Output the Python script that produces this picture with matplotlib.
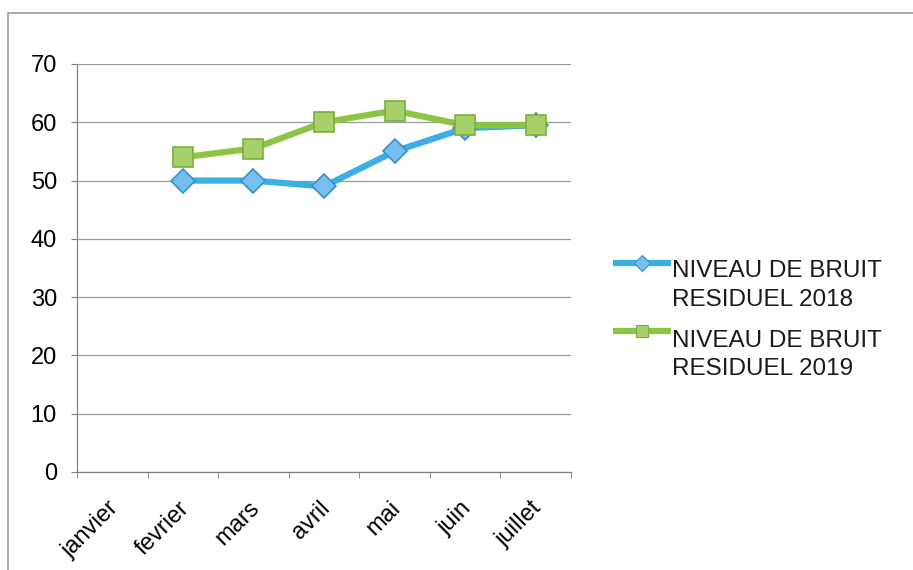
import matplotlib
matplotlib.use("Agg")
import matplotlib.pyplot as plt
import matplotlib.transforms as mtransforms
from matplotlib.patches import Rectangle
from matplotlib.lines import Line2D
import numpy as np

plt.rcParams['font.family'] = ['Liberation Sans', 'DejaVu Sans']

months = ["janvier", "fevrier", "mars", "avril", "mai", "juin", "juillet"]
bruit_2018 = [np.nan, 50, 50, 49, 55, 59, 59.5]
bruit_2019 = [np.nan, 54, 55.5, 60, 62, 59.5, 59.5]
label_2018 = ["NIVEAU DE BRUIT", "RESIDUEL 2018"]
label_2019 = ["NIVEAU DE BRUIT", "RESIDUEL 2019"]
yticks = [0, 10, 20, 30, 40, 50, 60, 70]

W, H = 913, 570
fig = plt.figure(figsize=(W / 100, H / 100), dpi=100)
ax = fig.add_axes([77 / W, 1 - 472 / H, (571 - 77) / W, (472 - 64) / H])

blue = dict(color="#3aaee6", marker="D", markerfacecolor="#74bff0",
            markeredgecolor="#3a8fc8")
green = dict(color="#8cc444", marker="s", markerfacecolor="#a6d06a",
             markeredgecolor="#7bae3c")

x = np.arange(len(months))
ax.plot(x, bruit_2018, lw=4.5, markersize=12.5, markeredgewidth=1.2, zorder=3, **blue)
ax.plot(x, bruit_2019, lw=4.5, markersize=15, markeredgewidth=1.2, zorder=4, **green)

ax.set_xlim(-0.5, len(months) - 0.5)
ax.set_ylim(0, 70)
ax.set_yticks(yticks)
ax.set_yticklabels([str(v) for v in yticks], fontsize=17)
ax.set_xticks(x)
ax.set_xticklabels(months, rotation=45, ha="right", va="top",
                   rotation_mode="anchor", fontsize=17)
ax.tick_params(axis="x", length=0, pad=18)
shift = mtransforms.ScaledTranslation(-5 / 100, 0, fig.dpi_scale_trans)
for lbl in ax.get_xticklabels():
    lbl.set_transform(lbl.get_transform() + shift)
ax.set_xticks(np.arange(len(months) + 1) - 0.5, minor=True)
ax.tick_params(axis="x", which="minor", length=4, color="#808080", direction="out")
ax.tick_params(axis="y", length=4.5, color="#808080", pad=10)

ax.grid(axis="y", color="#999999", lw=0.9)
ax.set_axisbelow(True)
for side in ("top", "right"):
    ax.spines[side].set_visible(False)
for side in ("left", "bottom"):
    ax.spines[side].set_color("#808080")
    ax.spines[side].set_linewidth(0.9)

# Legend entries: sample line with marker aligned to the first text line
def legend_entry(style, msize, y_handle, baselines, lines):
    fy = 1 - y_handle / H
    fig.add_artist(Line2D([613 / W, 671 / W], [fy, fy], transform=fig.transFigure,
                          lw=4.5, solid_capstyle="butt", color=style["color"]))
    fig.add_artist(Line2D([642 / W], [fy], transform=fig.transFigure, linestyle="none",
                          marker=style["marker"], markersize=msize,
                          markerfacecolor=style["markerfacecolor"],
                          markeredgecolor=style["markeredgecolor"], markeredgewidth=0.8))
    for b, t in zip(baselines, lines):
        fig.text(672 / W, 1 - b / H, t, fontsize=17.5, ha="left", va="baseline",
                 color="#1a1a1a")

legend_entry(blue, 8, 263, [277, 306], label_2018)
legend_entry(green, 9, 331, [347, 375], label_2019)

fig.patches.append(Rectangle((8 / W, -0.01), 1.0, 1 - 13 / H + 0.01,
                             transform=fig.transFigure, fill=False,
                             edgecolor="#9a9a9a", lw=1.2))

fig.savefig("out.png", dpi=100)
